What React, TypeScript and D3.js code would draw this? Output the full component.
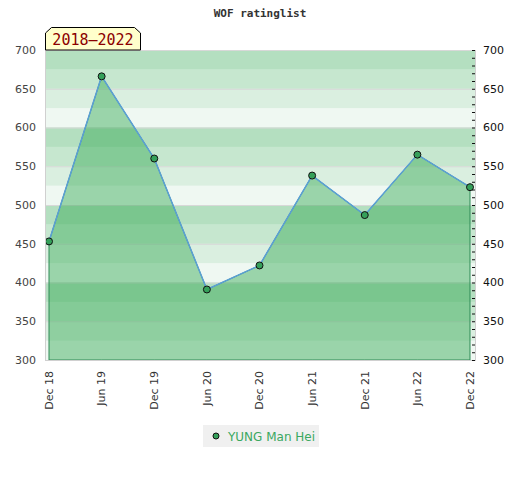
import React from "react";
import * as d3 from "d3";

const periods = ["Dec 18", "Jun 19", "Dec 19", "Jun 20", "Dec 20", "Jun 21", "Dec 21", "Jun 22", "Dec 22"];
const ratings = [453, 666, 560, 391, 422, 538, 487, 565, 523];
const playerName = "YUNG Man Hei";
const chartTitle = "WOF ratinglist";
const rangeLabel = "2018–2022";
const yTicks = [300, 350, 400, 450, 500, 550, 600, 650, 700];

const W = 520;
const H = 480;
const left = 45;
const right = 475;
const top = 50;
const bottom = 360;

const green = "52,168,83";
const bandAlpha = [0.37, 0.28, 0.18, 0.08];

export default function App() {
  const x = d3.scalePoint<string>().domain(periods).range([49, 470]);
  const y = d3.scaleLinear().domain([300, 700]).range([bottom, top]);

  const pts: [number, number][] = ratings.map((v, i) => [x(periods[i]) as number, y(v)]);

  const area = d3
    .area<[number, number]>()
    .x((d) => d[0])
    .y0(y(300))
    .y1((d) => d[1]);
  const line = d3
    .line<[number, number]>()
    .x((d) => d[0])
    .y((d) => d[1]);

  const bands = d3.range(700, 300, -25);
  const minor = d3.range(300, 701, 10);

  return (
    <svg width={W} height={H} style={{ position: "absolute", left: 0, top: 0 }}>
      <rect width={W} height={H} fill="#fff" />
      <text
        x={260}
        y={17}
        textAnchor="middle"
        fontFamily="DejaVu Sans Mono"
        fontWeight="bold"
        fontSize={11}
        fill="#333"
      >
        {chartTitle}
      </text>

      {/* background bands */}
      {bands.map((t, i) => (
        <rect
          key={t}
          x={left}
          y={y(t)}
          width={right - left}
          height={y(t - 25) - y(t)}
          fill={`rgba(${green},${bandAlpha[i % 4]})`}
        />
      ))}
      {yTicks.map((t) => (
        <line key={t} x1={left} x2={right} y1={y(t) + 0.5} y2={y(t) + 0.5} stroke="#d8d8d8" strokeWidth={1} />
      ))}

      <path d={area(pts) || ""} fill={`rgba(${green},0.45)`} stroke="#2e8b57" strokeWidth={1} />
      <path d={line(pts) || ""} fill="none" stroke="#5b9fd6" strokeWidth={1.5} />
      {pts.map((p, i) => (
        <circle key={i} cx={p[0]} cy={p[1]} r={3.5} fill="#35a05a" stroke="#111" strokeWidth={1} />
      ))}

      {/* frame */}
      <line x1={left + 0.5} x2={left + 0.5} y1={top} y2={bottom + 1} stroke="#d0d0d0" />
      <line x1={right + 0.5} x2={right + 0.5} y1={top} y2={bottom + 1} stroke="#d0d0d0" />
      <line x1={left} x2={right + 1} y1={bottom + 0.5} y2={bottom + 0.5} stroke="#d0d0d0" />

      {/* right axis minor ticks */}
      {minor.map((t) => (
        <line key={t} x1={right - 3} x2={right} y1={y(t) + 0.5} y2={y(t) + 0.5} stroke="#111" strokeWidth={1} />
      ))}

      {yTicks.map((t) => (
        <g key={t} fontFamily="DejaVu Sans" fontSize={11}>
          <text x={36} y={y(t)} dy="0.35em" textAnchor="end" fill="#444">
            {t}
          </text>
          <text x={483} y={y(t)} dy="0.35em" textAnchor="start" fill="#111">
            {t}
          </text>
        </g>
      ))}

      {periods.map((p) => (
        <text
          key={p}
          transform={`translate(${x(p)},371) rotate(-90)`}
          dy="0.35em"
          textAnchor="end"
          fontFamily="DejaVu Sans"
          fontSize={11}
          fill="#333"
        >
          {p}
        </text>
      ))}

      {/* period label */}
      <path d="M45.5,50 L45.5,33 L51.5,27.5 L134.5,27.5 L140.5,33 L140.5,50 Z" fill="#ffffcc" stroke="#000" strokeWidth={1} />
      <text x={93} y={45} textAnchor="middle" fontFamily="DejaVu Sans Mono" fontSize={15} fill="#8b0000">
        {rangeLabel}
      </text>

      {/* legend */}
      <rect x={203} y={425} width={116} height={22} fill="#f0f0f0" />
      <circle cx={216} cy={436} r={3} fill="#35a05a" stroke="#111" strokeWidth={1} />
      <text x={228} y={440.5} fontFamily="DejaVu Sans" fontSize={12} fill="#3aa860">
        {playerName}
      </text>
    </svg>
  );
}
